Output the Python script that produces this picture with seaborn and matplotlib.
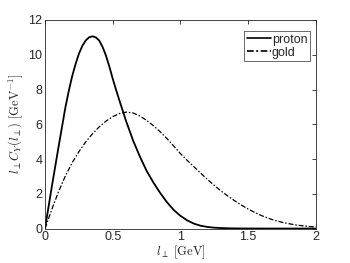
import numpy as np
import pandas as pd
import seaborn as sns
from matplotlib import pyplot as plt

# curves, l_perp in GeV
l_proton = [0.00, 0.05, 0.10, 0.15, 0.175, 0.20, 0.225, 0.25, 0.275, 0.30,
            0.325, 0.35, 0.375, 0.40, 0.425, 0.45, 0.475, 0.50, 0.525, 0.55,
            0.60, 0.65, 0.70, 0.75, 0.80, 0.85, 0.90, 0.95, 1.00, 1.05, 1.10,
            1.15, 1.20, 1.25, 1.30, 1.35, 1.40, 1.45, 1.50, 1.60, 2.00]
proton = [0.0, 2.4, 4.7, 6.95, 7.9, 8.75, 9.45, 10.05, 10.5, 10.82,
          11.0, 11.06, 11.0, 10.82, 10.45, 9.95, 9.32, 8.62, 7.97, 7.35,
          6.15, 5.07, 4.15, 3.32, 2.65, 2.05, 1.52, 1.07, 0.73, 0.47, 0.28,
          0.16, 0.09, 0.05, 0.03, 0.015, 0.008, 0.004, 0.002, 0.0, 0.0]

l_gold = [0.00, 0.05, 0.10, 0.15, 0.20, 0.25, 0.30, 0.35, 0.40, 0.45, 0.50,
          0.55, 0.60, 0.65, 0.70, 0.75, 0.80, 0.85, 0.90, 0.95, 1.00, 1.05,
          1.10, 1.15, 1.20, 1.25, 1.30, 1.35, 1.40, 1.45, 1.50, 1.55, 1.60,
          1.65, 1.70, 1.75, 1.80, 1.85, 1.90, 1.95, 2.00]
gold = [0.0, 1.1, 2.12, 3.02, 3.78, 4.42, 4.98, 5.45, 5.85, 6.18, 6.44,
        6.62, 6.7, 6.65, 6.48, 6.22, 5.92, 5.57, 5.18, 4.75, 4.31, 3.92,
        3.55, 3.18, 2.82, 2.48, 2.16, 1.87, 1.6, 1.35, 1.12, 0.92, 0.74,
        0.59, 0.46, 0.36, 0.28, 0.21, 0.16, 0.12, 0.09]

df = pd.DataFrame({
    'l': l_proton + l_gold,
    'val': proton + gold,
    'nucleus': ['proton'] * len(l_proton) + ['gold'] * len(l_gold),
})

sns.set_style('white')
plt.rcParams['font.family'] = ['Liberation Sans', 'DejaVu Sans']
plt.rcParams['mathtext.fontset'] = 'cm'

fig = plt.figure(figsize=(3.5, 2.63), dpi=100)
ax = fig.add_axes([0.1286, 0.131, 0.774, 0.793])

sns.lineplot(data=df, x='l', y='val', hue='nucleus', style='nucleus',
             palette=['black', 'black'],
             dashes={'proton': '', 'gold': (4, 1.5, 1.2, 1.5)},
             ax=ax)
ax.lines[0].set_linewidth(1.3)
ax.lines[0].set_solid_joinstyle('round')
ax.lines[1].set_linewidth(0.9)

ax.set_xlim(0, 2)
ax.set_ylim(0, 12)
ax.set_xticks([0, 0.5, 1, 1.5, 2])
ax.set_xticklabels(['0', '0.5', '1', '1.5', '2'])
ax.set_yticks([0, 2, 4, 6, 8, 10, 12])
ax.tick_params(direction='in', length=3, width=0.6, colors='#262626',
               labelsize=9, top=True, right=True, pad=2)
for s in ax.spines.values():
    s.set_color('#262626')
    s.set_linewidth(0.6)

ax.set_xlabel(r'$l_\perp\ [\mathrm{GeV}]$', fontsize=9, labelpad=0, color='#262626')
ax.set_ylabel(r'$l_\perp C_Y(l_\perp)\ [\mathrm{GeV}^{-1}]$', fontsize=9,
              labelpad=2, color='#262626')

handles, labels = ax.get_legend_handles_labels()
for h in handles:
    h.set_linewidth(1.2)
leg = ax.legend(handles, labels, loc='upper right', bbox_to_anchor=(0.978, 0.947),
                borderaxespad=0, fontsize=9, frameon=True, fancybox=False,
                handlelength=1.9, handletextpad=0.1, borderpad=0.2,
                labelspacing=0.1)
leg.get_frame().set_edgecolor('#262626')
leg.get_frame().set_linewidth(0.6)

fig.savefig('out.png', dpi=100)
